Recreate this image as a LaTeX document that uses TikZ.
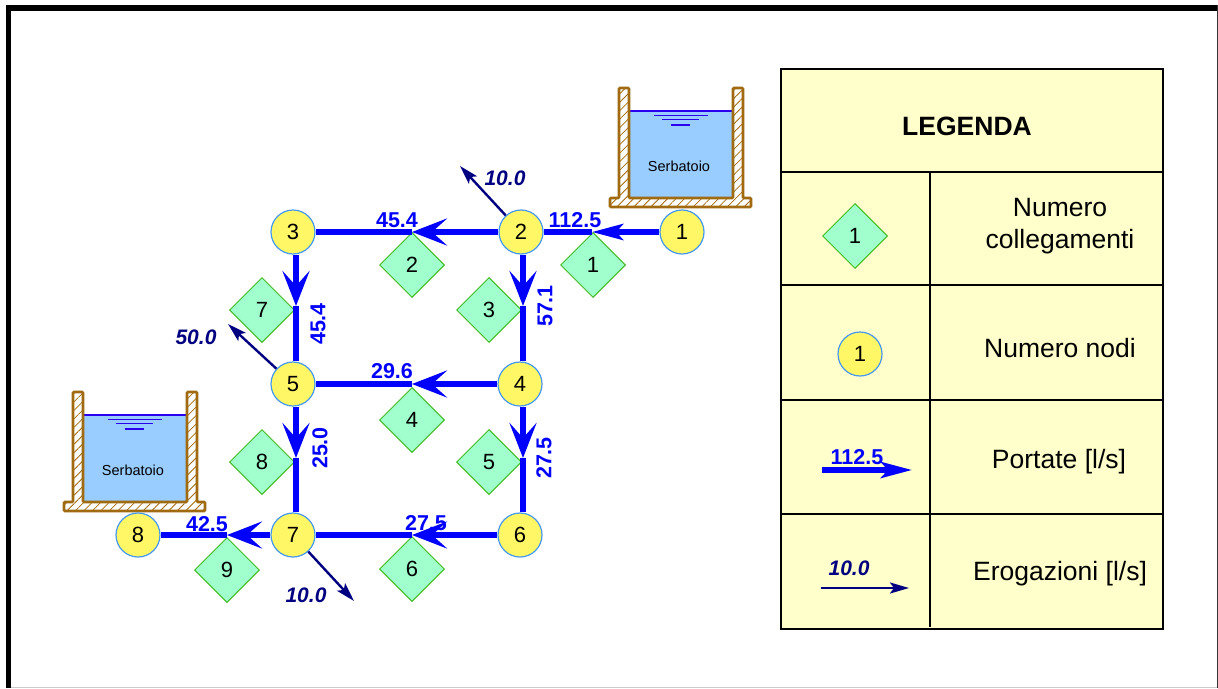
\documentclass[tikz,border=0pt]{standalone}
\usepackage{fontspec}
\setmainfont{Liberation Sans}
\usetikzlibrary{arrows.meta,shapes.geometric,patterns.meta}

\definecolor{tankbrown}{HTML}{A06A10}
\definecolor{tankwater}{HTML}{99CCFF}
\definecolor{legendfill}{HTML}{FFFFCC}
\definecolor{nodeline}{HTML}{4499EE}
\definecolor{linkline}{HTML}{44BB22}
\definecolor{linkfill}{HTML}{A0FFCC}
\definecolor{watercol}{HTML}{2A00F0}

\tikzset{
    nodo/.style={circle,draw=nodeline,fill=yellow!60,line width=1.2pt,minimum size=44pt,inner sep=0pt,font=\fontsize{22}{24}\selectfont},
    link/.style={diamond,aspect=1,draw=linkline,fill=linkfill,line width=1pt,minimum size=65pt,inner sep=0pt,font=\fontsize{22}{24}\selectfont},
    pipe/.style={blue,line width=5.5pt},
    flow/.style={pipe,-{Stealth[length=35pt,width=27pt,inset=15pt]}},
    flowsmall/.style={pipe,-{Stealth[length=31pt,width=16pt,inset=7pt]}},
    erog/.style={blue!50!black,line width=2.4pt,-{Stealth[length=19pt,width=11pt,inset=4pt]}},
    flowlabel/.style={blue,inner sep=0pt,font=\fontsize{21.5}{24}\bfseries\selectfont},
    eroglabel/.style={blue!50!black,inner sep=0pt,font=\fontsize{21}{24}\bfseries\itshape\selectfont},
    legendtext/.style={inner sep=0pt,align=center,font=\fontsize{26.5}{32}\selectfont},
    tank/.pic={
        \fill [tankwater] (10,23) rectangle (114,110);
        \draw [watercol,line width=1.8pt] (10,23) -- (114,23);
        \draw [watercol,line width=1.8pt] (35,27.5) -- (89,27.5);
        \draw [watercol,line width=1.8pt] (43,31.5) -- (80,31.5);
        \draw [watercol,line width=1.8pt] (52,37) -- (71,37);
        \draw [tankbrown,line width=2.6pt,rounded corners=1pt,pattern={Lines[angle=45,distance=6pt,line width=0.8pt]},pattern color=tankbrown]
            (0,0) -- (10,0) -- (10,110) -- (114,110) -- (114,0) -- (124,0) -- (124,110) -- (132,110)
            -- (132,119) -- (-9,119) -- (-9,110) -- (0,110) -- cycle;
        \node (label) at (60,78) {\fontsize{14.5}{16}\selectfont Serbatoio};
    }
}

\begin{document}
\begin{tikzpicture}[x=1pt,y=-1pt]
\useasboundingbox (0,0) rectangle (1218,688);
\fill [black] (6,5) rectangle (1218,11);
\fill [black] (6,5) rectangle (11,688);
\fill [black!80] (1216.5,5) rectangle (1218,688);
\fill [black!20] (11,686.5) rectangle (1216.5,688);

\pic (tankone) at (619,88) {tank};
\pic (tanktwo) at (73,392) {tank};

\node [link] (link1) at (593,265) {1};
\node [link] (link2) at (412,265) {2};
\node [link] (link3) at (489,310) {3};
\node [link] (link4) at (412,420) {4};
\node [link] (link5) at (489,462) {5};
\node [link] (link6) at (412,569) {6};
\node [link] (link7) at (262,310) {7};
\node [link] (link8) at (262,462) {8};
\node [link] (link9) at (227,570) {9};

\node [nodo] (node1) at (682,232) {1};
\node [nodo] (node2) at (521,232) {2};
\node [nodo] (node3) at (293,232) {3};
\node [nodo] (node4) at (520,384) {4};
\node [nodo] (node5) at (293,384) {5};
\node [nodo] (node6) at (520,535) {6};
\node [nodo] (node7) at (293,535) {7};
\node [nodo] (node8) at (138,535) {8};

\coordinate (tip12) at (592,232);
\coordinate (tip23) at (412,232);
\coordinate (tip24) at (523,306);
\coordinate (tip35) at (296,306);
\coordinate (tip45) at (412,384);
\coordinate (tip46) at (523,458);
\coordinate (tip57) at (296,458);
\coordinate (tip67) at (412,535);
\coordinate (tip78) at (227,535);

\draw [flowsmall] (node1) -- (tip12);
\draw [pipe] (tip12) -- (node2);
\draw [flow] (node2) -- (tip23);
\draw [pipe] (tip23) -- (node3);
\draw [flow] (node2.south -| tip24) -- (tip24);
\draw [pipe] (tip24) -- (node4.north -| tip24);
\draw [flow] (node3.south -| tip35) -- (tip35);
\draw [pipe] (tip35) -- (node5.north -| tip35);
\draw [flow] (node4) -- (tip45);
\draw [pipe] (tip45) -- (node5);
\draw [flow] (node4.south -| tip46) -- (tip46);
\draw [pipe] (tip46) -- (node6.north -| tip46);
\draw [flow] (node5.south -| tip57) -- (tip57);
\draw [pipe] (tip57) -- (node7.north -| tip57);
\draw [flow] (node6) -- (tip67);
\draw [pipe] (tip67) -- (node7);
\draw [flow] (node7) -- (tip78);
\draw [pipe] (tip78) -- (node8);

\coordinate (out2) at (460,166);
\coordinate (out5) at (228,324);
\coordinate (out7) at (354,601);
\draw [erog] (node2) -- (out2);
\draw [erog] (node5) -- (out5);
\draw [erog] (node7) -- (out7);

\node [flowlabel] (flow12) at (575,220) {112.5};
\node [flowlabel] (flow23) at (397,220) {45.4};
\node [flowlabel] (flow45) at (392,371) {29.6};
\node [flowlabel] (flow67) at (426,523) {27.5};
\node [flowlabel] (flow78) at (207,524) {42.5};
\node [flowlabel,rotate=90] (flow24) at (545,306) {57.1};
\node [flowlabel,rotate=90] (flow35) at (318,324) {45.4};
\node [flowlabel,rotate=90] (flow57) at (320,448) {25.0};
\node [flowlabel,rotate=90] (flow46) at (544,458) {27.5};

\node [eroglabel] (erog2) at (505,178) {10.0};
\node [eroglabel] (erog5) at (196,337) {50.0};
\node [eroglabel] (erog7) at (306,595) {10.0};

\draw [black,fill=legendfill,line width=1.5pt] (781,69) rectangle (1163,629);
\draw [black,line width=1.5pt] (781,172) -- (1163,172);
\draw [black,line width=1.5pt] (781,285) -- (1163,285);
\draw [black,line width=1.5pt] (781,400) -- (1163,400);
\draw [black,line width=1.5pt] (781,514) -- (1163,514);
\draw [black,line width=1.5pt] (930,172) -- (930,627);

\node [legendtext,font=\fontsize{26.5}{32}\bfseries\selectfont] (title) at (967,126) {LEGENDA};
\node [link] (legendlink) at (855,236) {1};
\node [nodo] (legendnode) at (860,354) {1};
\coordinate (flowstart) at (822,470);
\coordinate (flowend) at (912,470);
\coordinate (erogstart) at (821,588);
\coordinate (erogend) at (909,588);
\draw [flowsmall] (flowstart) -- (flowend);
\draw [erog] (erogstart) -- (erogend);
\node [flowlabel] (legendflow) at (857,457) {112.5};
\node [eroglabel] (legenderog) at (849,568) {10.0};

\node [legendtext] (textlink) at (1060,226) {Numero\\collegamenti};
\node [legendtext] (textnode) at (1060,348) {Numero nodi};
\node [legendtext] (textflow) at (1059,462) {Portate [l/s]};
\node [legendtext] (texterog) at (1060,574) {Erogazioni [l/s]};
\end{tikzpicture}
\end{document}
